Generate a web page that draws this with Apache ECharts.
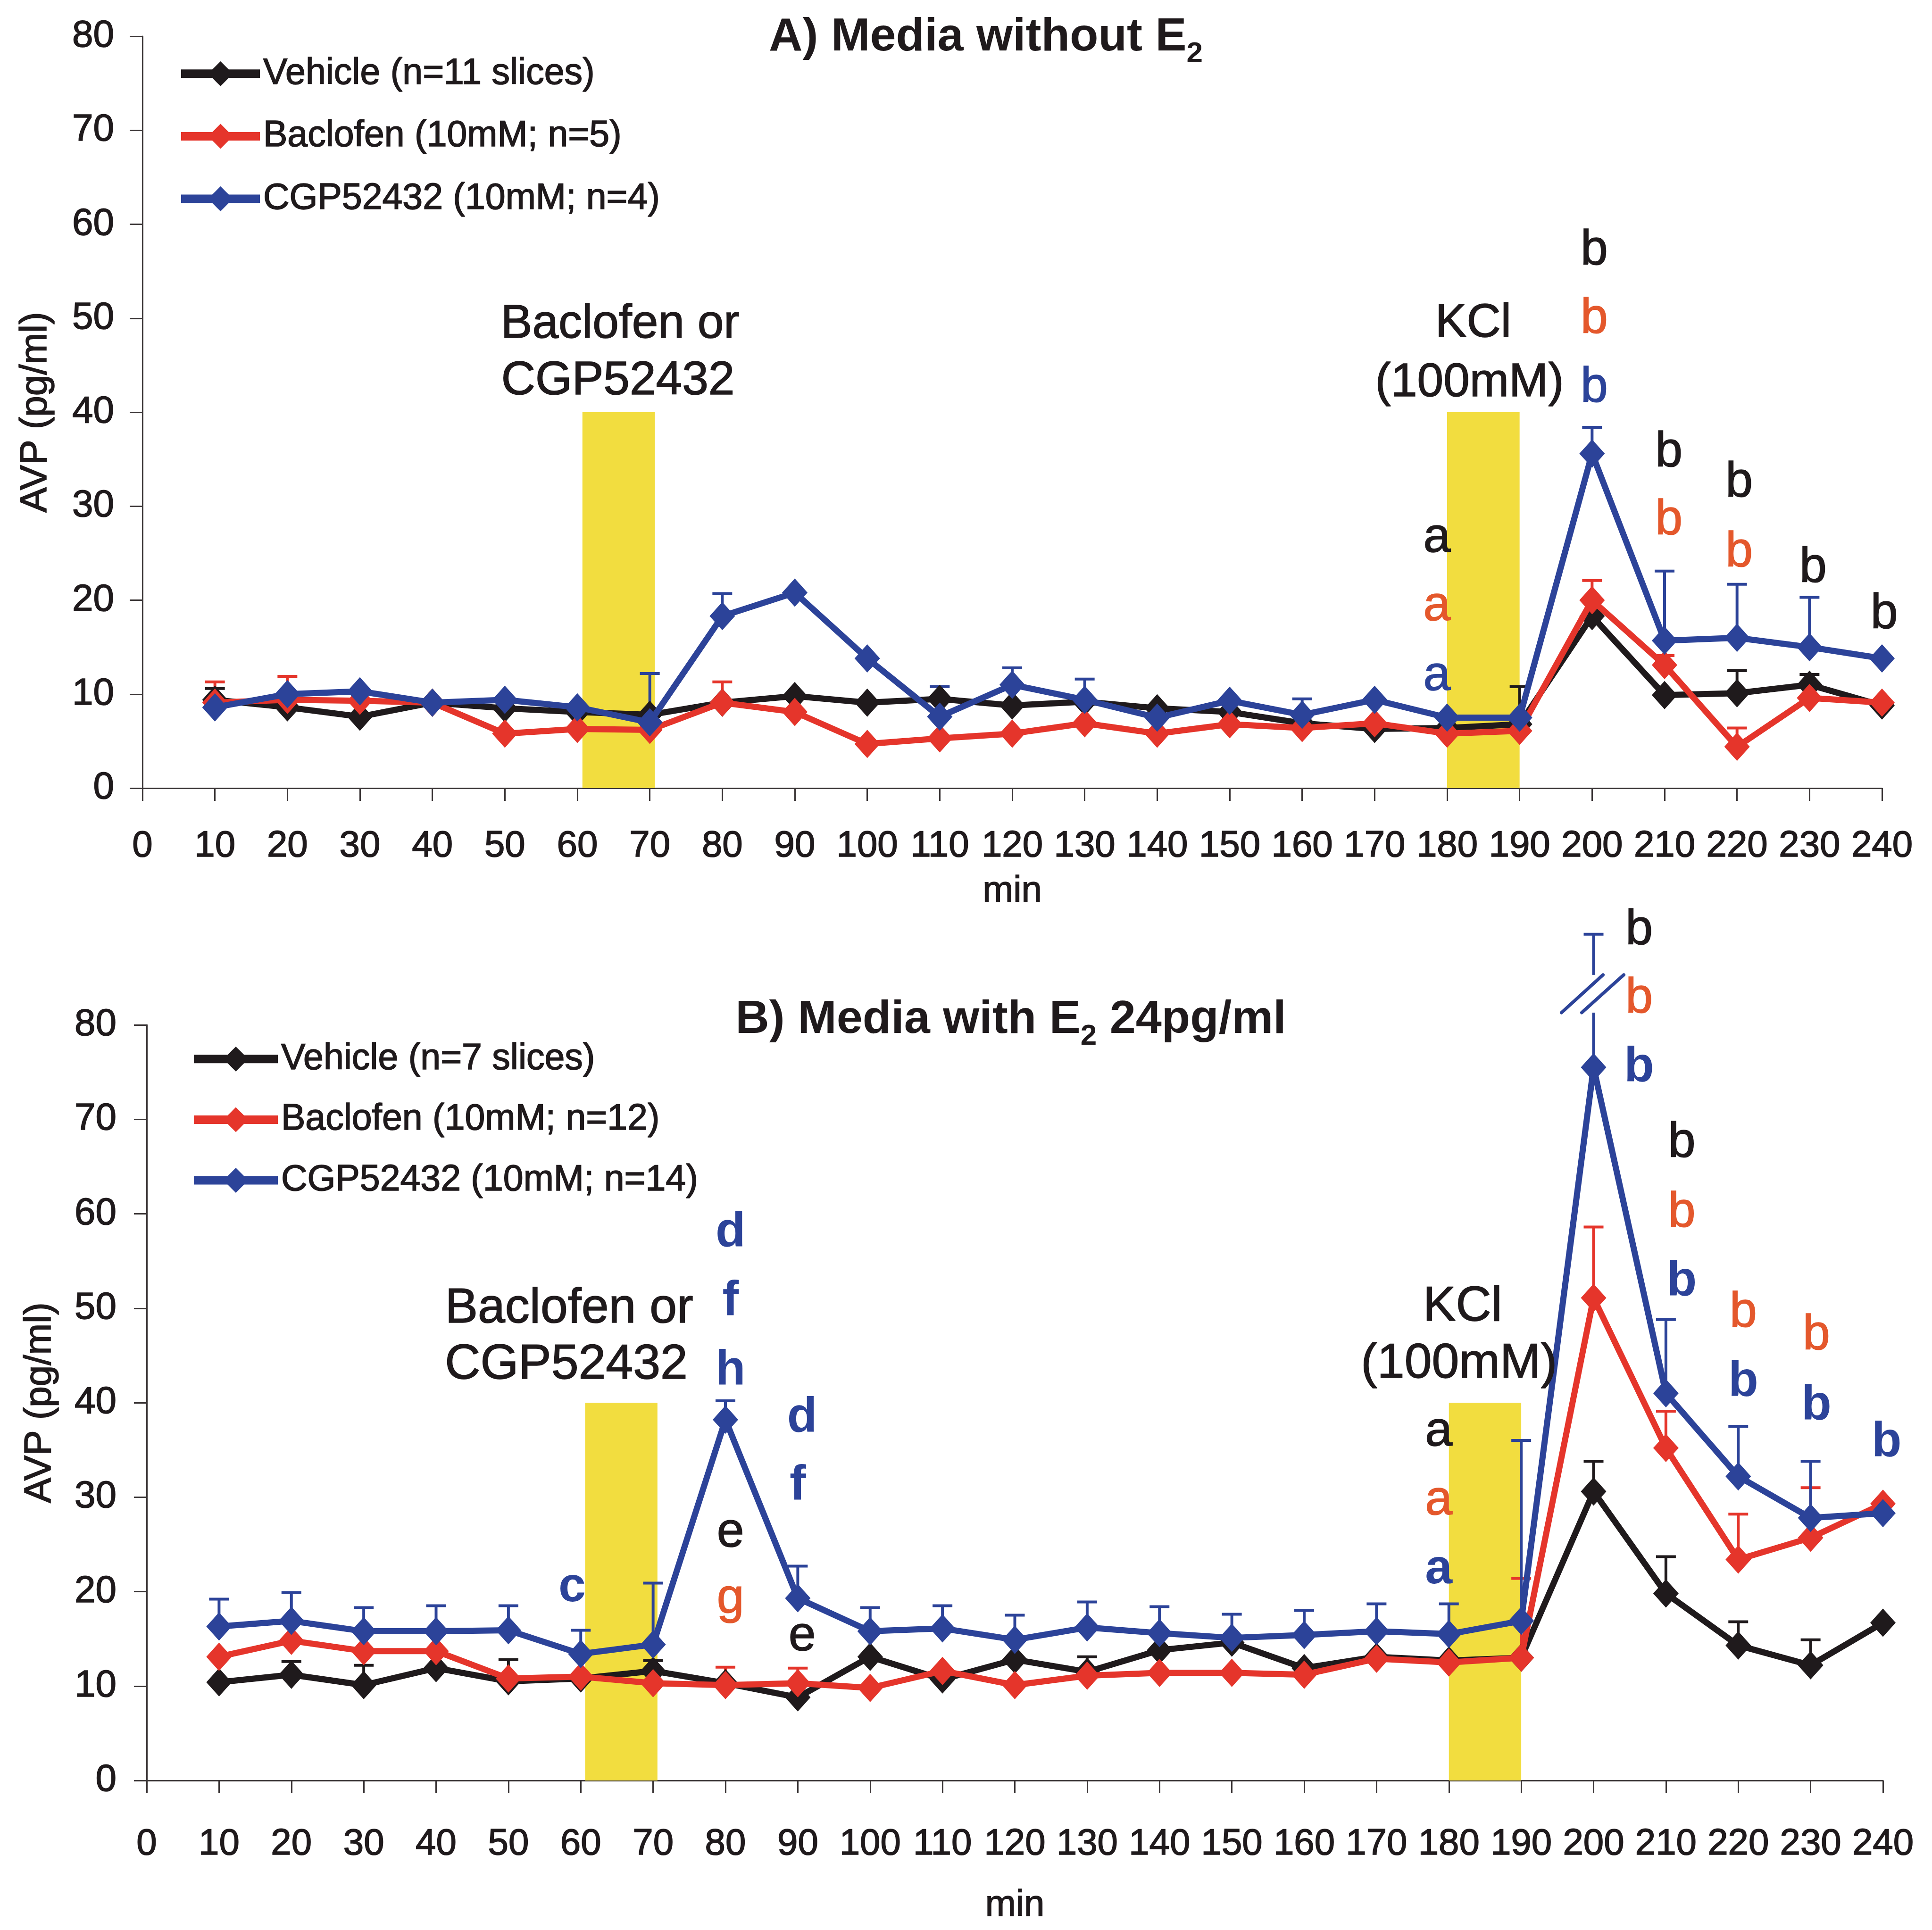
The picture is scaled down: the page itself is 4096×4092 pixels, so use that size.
<!DOCTYPE html>
<html><head><meta charset="utf-8">
<script src="https://cdn.jsdelivr.net/npm/echarts@6/dist/echarts.min.js"></script>
<style>html,body{margin:0;padding:0;background:#fff}#c{width:4096px;height:4092px}</style>
</head><body><div id="c"></div>
<script>
// ---------- data ----------
const minutes = [10,20,30,40,50,60,70,80,90,100,110,120,130,140,150,160,170,180,190,200,210,220,230,240];

// Panel A: media without E2
const namesA = ['Vehicle (n=11 slices)', 'Baclofen (10mM; n=5)', 'CGP52432 (10mM; n=4)'];
const vehicleA  = [9.4, 8.6, 7.6, 9.1, 8.5, 8.1, 7.8, 9.1, 9.8, 9.1, 9.5, 8.8, 9.2, 8.5, 8.1, 6.9, 6.3, 6.4, 6.8, 18.3, 9.9, 10.1, 11.0, 8.8];
const baclofenA = [9.1, 9.4, 9.3, 9.1, 5.8, 6.3, 6.2, 9.1, 8.1, 4.7, 5.3, 5.8, 6.9, 5.8, 6.8, 6.4, 6.9, 5.8, 6.1, 20.0, 13.1, 4.4, 9.6, 9.1];
const cgpA      = [8.6, 10.0, 10.3, 9.1, 9.4, 8.6, 7.0, 18.3, 20.8, 13.8, 7.6, 11.0, 9.4, 7.5, 9.3, 7.8, 9.4, 7.5, 7.5, 35.6, 15.7, 16.0, 15.0, 13.8];
const vehicleASem  = [1.2, null, null, null, null, null, null, null, null, null, null, null, null, null, null, null, null, null, 4.0, null, null, 2.4, 1.1, null];
const baclofenASem = [2.2, 2.5, null, null, null, null, null, 2.2, null, null, null, null, null, null, null, null, null, null, null, 2.1, 1.0, 2.0, null, null];
const cgpASem      = [null, null, null, null, null, null, 5.2, 2.4, null, null, 3.2, 1.8, 2.2, null, null, 1.7, null, null, null, 2.8, 7.4, 5.7, 5.3, null];

// Panel B: media with E2 24pg/ml
const namesB = ['Vehicle (n=7 slices)', 'Baclofen (10mM; n=12)', 'CGP52432 (10mM; n=14)'];
const vehicleB  = [10.4, 11.2, 10.1, 11.9, 10.5, 10.8, 11.6, 10.3, 8.8, 13.1, 10.7, 12.8, 11.5, 13.8, 14.6, 11.9, 13.1, 12.7, 13.0, 30.6, 19.8, 14.3, 12.2, 16.7];
const baclofenB = [13.1, 14.8, 13.7, 13.7, 10.8, 11.0, 10.3, 10.1, 10.3, 9.8, 11.6, 10.1, 11.1, 11.4, 11.4, 11.2, 12.9, 12.5, 13.0, 51.1, 35.2, 23.4, 25.7, 29.3];
const cgpB      = [16.3, 16.9, 15.8, 15.8, 15.9, 13.4, 14.4, 38.2, 19.3, 15.8, 16.1, 14.9, 16.2, 15.6, 15.1, 15.4, 15.8, 15.5, 16.9, 75.5, 41.0, 32.2, 27.8, 28.3];
const vehicleBSem  = [null, 1.4, 2.1, null, 2.3, null, 1.1, null, null, null, null, null, 1.6, null, null, null, null, null, null, 3.2, 3.9, 2.5, 2.7, null];
const baclofenBSem = [null, null, null, null, null, null, null, 1.9, 1.6, null, null, null, null, null, null, null, null, null, 8.4, 7.5, 3.9, 4.8, 5.3, null];
const cgpBSem      = [2.9, 3.0, 2.5, 2.7, 2.6, 2.5, 6.5, 2.0, 3.4, 2.5, 2.4, 2.6, 2.7, 2.8, 2.5, 2.6, 2.9, 3.2, 19.1, 14.1, 7.8, 5.3, 6.0, null];
const cgpBBreak = [200, 81.3, 85.3];   // broken error bar: minute, break from, break to

// treatment windows: [start, end, height]
const windowsA = [[60.7, 70.7, 40], [180, 190, 40]];
const windowsB = [[60.6, 70.6, 40], [180, 190, 40]];

// annotations: [minute, value, text, colourKey]
const notesA = [
  [200.3, 57.2, 'b', 'k'], [200.3, 49.9, 'b', 'r'], [200.3, 42.6, 'b', 'u'],
  [210.6, 35.7, 'b', 'k'], [210.6, 28.5, 'b', 'r'],
  [220.3, 32.5, 'b', 'k'], [220.3, 25.1, 'b', 'r'],
  [230.5, 23.4, 'b', 'k'],
  [240.3, 18.5, 'b', 'k'],
  [178.6, 26.6, 'a', 'k'], [178.6, 19.3, 'a', 'r'], [178.6, 11.9, 'a', 'u']
];
const labelsA = [[65.9, 49.3, 'Baclofen or'], [65.6, 43.3, 'CGP52432'], [183.6, 49.4, 'KCl'], [183.1, 43.1, '(100mM)']];
const notesB = [
  [206.3, 90.0, 'b', 'k'], [206.3, 82.8, 'b', 'r'], [206.3, 75.5, 'b', 'u'],
  [212.2, 67.5, 'b', 'k'], [212.2, 60.1, 'b', 'r'], [212.2, 52.8, 'b', 'u'],
  [220.7, 49.5, 'b', 'r'], [220.7, 42.2, 'b', 'u'],
  [230.8, 47.1, 'b', 'r'], [230.8, 39.7, 'b', 'u'],
  [240.5, 35.8, 'b', 'u'],
  [178.6, 36.9, 'a', 'k'], [178.6, 29.6, 'a', 'r'], [178.6, 22.3, 'a', 'u'],
  [80.7, 58.0, 'd', 'u'], [80.7, 50.7, 'f', 'u'], [80.7, 43.4, 'h', 'u'],
  [90.6, 38.4, 'd', 'u'], [90.0, 31.2, 'f', 'u'],
  [80.7, 26.2, 'e', 'k'], [80.7, 19.2, 'g', 'r'],
  [90.6, 15.2, 'e', 'k'],
  [58.8, 20.4, 'c', 'u']
];
const labelsB = [[58.4, 49.9, 'Baclofen or'], [58.0, 44.0, 'CGP52432'], [181.9, 50.1, 'KCl'], [181.4, 44.1, '(100mM)']];

// ---------- style ----------
const FONT = "'Liberation Sans', Arial, Helvetica, sans-serif";
const INK = '#1f1a1c';
const LINE = {k: '#1f1a1c', r: '#e5352b', u: '#2c4399'};
const TXT  = {k: '#1f1a1c', r: '#e4582c', u: '#2c4399'};
const YELLOW = '#f2dd3f';
const AXIS = '#3a3536';
const HEAVY = 1.6;   // slight stroke to mimic the heavy print of the original type

function pairs(vals) { return minutes.map((m, i) => [m, vals[i]]); }
function errData(vals, sem, brk) {
  const out = [];
  minutes.forEach((m, i) => {
    if (sem[i] == null) return;
    if (brk && brk[0] === m) return;
    out.push([m, vals[i], sem[i]]);
  });
  return out;
}

function errRender(color) {
  return function (params, api) {
    const x = api.value(0), m = api.value(1), s = api.value(2);
    const p0 = api.coord([x, m]), p1 = api.coord([x, m + s]);
    const st = {stroke: color, lineWidth: 6};
    return {type: 'group', children: [
      {type: 'line', shape: {x1: p0[0], y1: p0[1], x2: p1[0], y2: p1[1]}, style: st},
      {type: 'line', shape: {x1: p1[0] - 21, y1: p1[1], x2: p1[0] + 21, y2: p1[1]}, style: st}
    ]};
  };
}
function brokenRender(color) {
  return function (params, api) {
    const x = api.value(0), m = api.value(1), s = api.value(2), lo = api.value(3), hi = api.value(4);
    const p0 = api.coord([x, m]), p1 = api.coord([x, m + s]);
    const pl = api.coord([x, lo]), ph = api.coord([x, hi]);
    const st = {stroke: color, lineWidth: 6};
    const sl = {stroke: color, lineWidth: 7, lineCap: 'round'};
    return {type: 'group', children: [
      {type: 'line', shape: {x1: p0[0], y1: p0[1], x2: pl[0], y2: pl[1]}, style: st},
      {type: 'line', shape: {x1: ph[0], y1: ph[1], x2: p1[0], y2: p1[1]}, style: st},
      {type: 'line', shape: {x1: p1[0] - 21, y1: p1[1], x2: p1[0] + 21, y2: p1[1]}, style: st},
      {type: 'line', shape: {x1: pl[0] - 68, y1: pl[1], x2: pl[0] + 20, y2: ph[1]}, style: sl},
      {type: 'line', shape: {x1: pl[0] - 25, y1: pl[1], x2: pl[0] + 64, y2: ph[1]}, style: sl}
    ]};
  };
}
function windowRender(params, api) {
  const a = api.coord([api.value(0), api.value(2)]);
  const b = api.coord([api.value(1), 0]);
  return {type: 'rect', shape: {x: a[0], y: a[1], width: b[0] - a[0], height: b[1] - a[1]}, style: {fill: YELLOW}};
}

function panelSeries(idx, names, vals, sems, brk, windows, notes, labels, labelSize) {
  const s = [];
  s.push({type: 'custom', xAxisIndex: idx, yAxisIndex: idx, renderItem: windowRender, data: windows,
          encode: {x: [0, 1], y: 2}, z: 1, silent: true, clip: false});
  const keys = ['k', 'r', 'u'];
  keys.forEach((k, i) => {
    s.push({type: 'custom', xAxisIndex: idx, yAxisIndex: idx, renderItem: errRender(LINE[k]),
            data: errData(vals[i], sems[i], i === 2 ? brk : null), encode: {x: 0, y: 1}, z: 2, silent: true, clip: false});
  });
  if (brk) {
    const bi = minutes.indexOf(brk[0]);
    s.push({type: 'custom', xAxisIndex: idx, yAxisIndex: idx, renderItem: brokenRender(LINE.u),
            data: [[brk[0], vals[2][bi], sems[2][bi], brk[1], brk[2]]], encode: {x: 0, y: 1}, z: 2, silent: true, clip: false});
  }
  keys.forEach((k, i) => {
    s.push({type: 'line', name: names[i], xAxisIndex: idx, yAxisIndex: idx, data: pairs(vals[i]),
            symbol: 'diamond', symbolSize: [54, 60], showAllSymbol: true,
            lineStyle: {color: LINE[k], width: 13}, itemStyle: {color: LINE[k]}, z: 3 + i * 0.01});
  });
  s.push({type: 'scatter', xAxisIndex: idx, yAxisIndex: idx, symbolSize: 1, clip: false, silent: true, z: 6,
          itemStyle: {color: 'transparent', opacity: 1},
          label: {show: true, position: 'inside', formatter: '{b}', fontFamily: FONT, fontSize: 104, opacity: 1},
          data: notes.map(n => {
            const bold = (idx === 1 && n[3] === 'u');
            return {value: [n[0], n[1]], name: n[2],
              label: {color: TXT[n[3]], fontWeight: bold ? 'bold' : 'normal',
                      textBorderColor: TXT[n[3]], textBorderWidth: bold ? 0 : HEAVY}};
          })});
  s.push({type: 'scatter', xAxisIndex: idx, yAxisIndex: idx, symbolSize: 1, clip: false, silent: true, z: 6,
          itemStyle: {color: 'transparent', opacity: 1},
          label: {show: true, position: 'inside', formatter: '{b}', fontFamily: FONT, fontSize: labelSize, color: INK,
                  textBorderColor: INK, textBorderWidth: HEAVY, opacity: 1},
          data: labels.map(n => ({value: [n[0], n[1]], name: n[2]}))});
  return s;
}

function xAxisCfg(idx, margin, nameGap) {
  return {type: 'value', gridIndex: idx, min: 0, max: 240, interval: 10,
    name: 'min', nameLocation: 'middle', nameGap: nameGap,
    nameTextStyle: {fontFamily: FONT, fontSize: 78, color: INK, textBorderColor: INK, textBorderWidth: HEAVY},
    axisLine: {lineStyle: {color: AXIS, width: 3}},
    axisTick: {show: true, length: 27, lineStyle: {color: AXIS, width: 3}},
    axisLabel: {margin: margin, fontFamily: FONT, fontSize: 78, color: INK, textBorderColor: INK, textBorderWidth: HEAVY},
    splitLine: {show: false}};
}
function yAxisCfg(idx, margin) {
  return {type: 'value', gridIndex: idx, min: 0, max: 80, interval: 10,
    name: 'AVP (pg/ml)', nameLocation: 'middle', nameGap: 186,
    nameTextStyle: {fontFamily: FONT, fontSize: 80, color: INK, textBorderColor: INK, textBorderWidth: HEAVY},
    axisLine: {show: true, lineStyle: {color: AXIS, width: 3}},
    axisTick: {show: true, length: 27, lineStyle: {color: AXIS, width: 3}},
    axisLabel: {margin: margin, fontFamily: FONT, fontSize: 80, color: INK, textBorderColor: INK, textBorderWidth: HEAVY},
    splitLine: {show: false}};
}
function legendCfg(names, left, top, itemWidth, gap) {
  return {data: names, orient: 'vertical', left: left, top: top, itemWidth: itemWidth, itemHeight: 66, itemGap: gap,
    selectedMode: false, lineStyle: {width: 18},
    textStyle: {fontFamily: FONT, fontSize: 77, color: INK, textBorderColor: INK, textBorderWidth: HEAVY, padding: [0, 0, 0, 2]}};
}
function titleText(x, y, text) {
  return {type: 'text', x: x, y: y, z: 10, style: {text: text, fontFamily: FONT, fontSize: 99, fontWeight: 'bold',
    fill: INK, align: 'center', verticalAlign: 'middle', lineHeight: 132,
    rich: {s: {fontSize: 62, fontWeight: 'bold', fontFamily: FONT, verticalAlign: 'bottom', fill: INK}}}};
}

const chart = echarts.init(document.getElementById('c'), null, {renderer: 'canvas'});
chart.setOption({
  animation: false,
  backgroundColor: '#ffffff',
  grid: [
    {left: 302, right: 106, top: 77, height: 1594},
    {left: 311, right: 104, top: 2173, height: 1602}
  ],
  xAxis: [xAxisCfg(0, 84, 180), xAxisCfg(1, 96, 226)],
  yAxis: [yAxisCfg(0, 60), yAxisCfg(1, 64)],
  legend: [
    legendCfg(namesA, 370, 112, 167, 54),
    legendCfg(namesB, 397, 2201, 178, 50)
  ],
  graphic: [
    titleText(2090, 80, 'A) Media without E{s|2}'),
    titleText(2143, 2163, 'B) Media with E{s|2} 24pg/ml')
  ],
  series: [
    ...panelSeries(0, namesA, [vehicleA, baclofenA, cgpA], [vehicleASem, baclofenASem, cgpASem], null, windowsA, notesA, labelsA, 100),
    ...panelSeries(1, namesB, [vehicleB, baclofenB, cgpB], [vehicleBSem, baclofenBSem, cgpBSem], cgpBBreak, windowsB, notesB, labelsB, 104)
  ]
});
</script>
</body></html>
